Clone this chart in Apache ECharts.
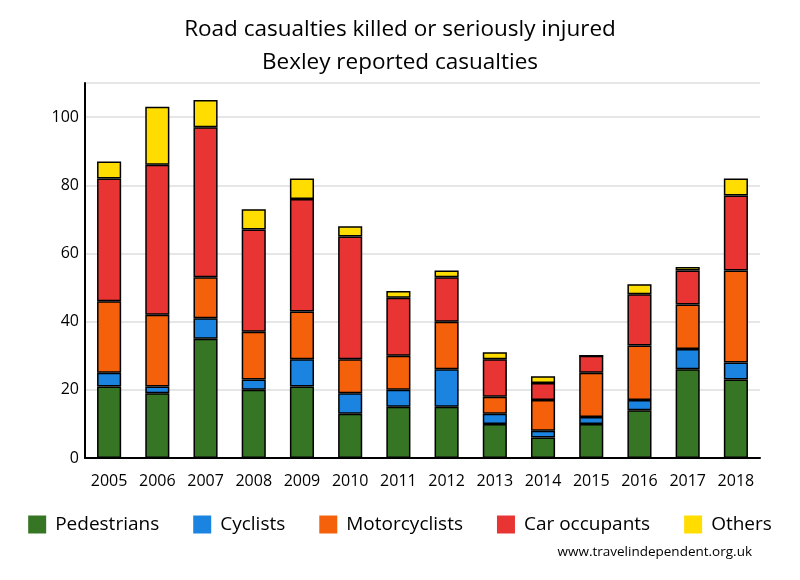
<!DOCTYPE html>
<html><head><meta charset="utf-8">
<script src="https://cdn.jsdelivr.net/npm/echarts@6/dist/echarts.min.js"></script>
<style>html,body{margin:0;padding:0;background:#fff}#c{width:800px;height:580px}</style>
</head><body><div id="c"></div>
<script>
const years = ['2005','2006','2007','2008','2009','2010','2011','2012','2013','2014','2015','2016','2017','2018'];
const pedestrians = [21,19,35,20,21,13,15,15,10,6,10,14,26,23];
const cyclists = [4,2,6,3,8,6,5,11,3,2,2,3,6,5];
const motorcyclists = [21,21,12,14,14,10,10,14,5,9,13,16,13,27];
const carOccupants = [36,44,44,30,33,36,17,13,11,5,5,15,10,22];
const others = [5,17,8,6,6,3,2,2,2,2,0,3,1,5];
const yTicks = [0,20,40,60,80,100];

const FONT = '"Open Sans", "Noto Sans", sans-serif';
const seriesDefs = [
  ['Pedestrians', pedestrians, '#367523'],
  ['Cyclists', cyclists, '#1a84e0'],
  ['Motorcyclists', motorcyclists, '#f5600a'],
  ['Car occupants', carOccupants, '#e93434'],
  ['Others', others, '#ffdd00']
];
const chart = echarts.init(document.getElementById('c'));
chart.setOption({
  animation: false,
  title: {
    text: 'Road casualties killed or seriously injured\nBexley reported casualties',
    left: 'center', top: 8,
    textStyle: {fontFamily: FONT, fontSize: 22.5, fontWeight: 'normal', color: '#000', lineHeight: 33}
  },
  graphic: [{type: 'text', right: 48, top: 545, style: {text: 'www.travelindependent.org.uk', fontFamily: FONT, fontSize: 13.5, fill: '#000'}}],
  legend: {
    bottom: 41, left: 'center', itemWidth: 18, itemHeight: 18, itemGap: 34, icon: 'rect',
    itemStyle: {borderWidth: 0},
    textStyle: {fontFamily: FONT, fontSize: 19, color: '#000', padding: [0, 0, 0, 4]},
    data: seriesDefs.map(s => s[0])
  },
  grid: {left: 85, right: 40, top: 83, bottom: 122},
  xAxis: {
    type: 'category', data: years,
    axisLine: {lineStyle: {color: '#000', width: 2}},
    axisTick: {show: false},
    axisLabel: {fontFamily: FONT, fontSize: 16, color: '#000', margin: 15, interval: 0, hideOverlap: false}
  },
  yAxis: {
    type: 'value', min: 0, max: 110, interval: 20,
    axisLine: {show: true, lineStyle: {color: '#000', width: 2}},
    axisTick: {show: false},
    axisLabel: {fontFamily: FONT, fontSize: 16, color: '#000', margin: 6,
      formatter: v => yTicks.includes(v) ? String(v) : ''},
    splitLine: {lineStyle: {color: '#e6e6e6', width: 2}}
  },
  series: seriesDefs.map(s => ({
    name: s[0], type: 'bar', stack: 'total', data: s[1], barWidth: '50%',
    itemStyle: {color: s[2], borderColor: '#000', borderWidth: 1.5}
  }))
});
</script></body></html>
